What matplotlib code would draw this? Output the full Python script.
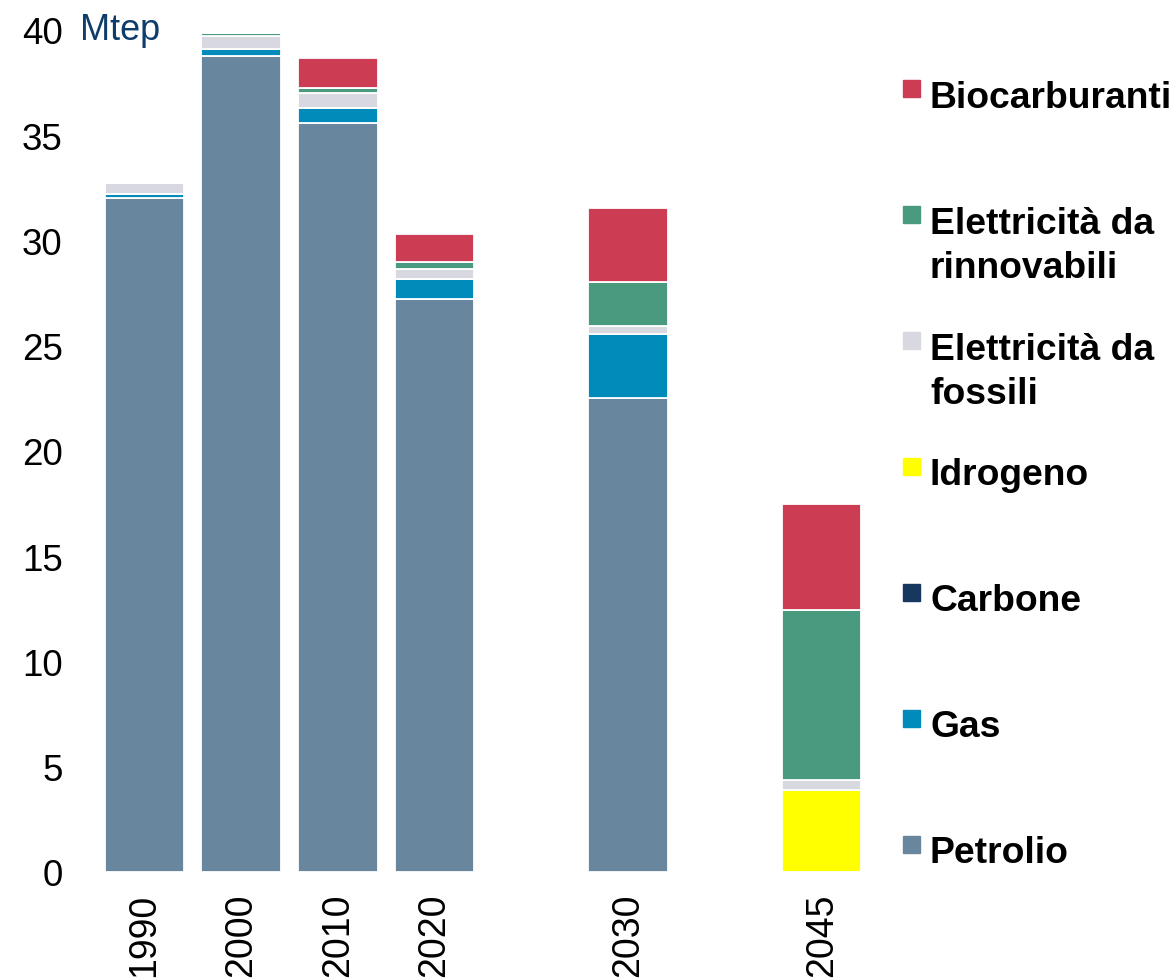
import numpy as np
import matplotlib
matplotlib.use("Agg")
import matplotlib.pyplot as plt
from matplotlib.patches import Rectangle

# DATI (Mtep)
anni = ["1990", "2000", "2010", "2020", "2030", "2045"]
posizioni = [0, 1, 2, 3, 5, 7]

petrolio = [32.0, 38.75, 35.6, 27.2, 22.5, 0.0]
gas = [0.2, 0.35, 0.7, 0.95, 3.05, 0.0]
carbone = [0.0, 0.0, 0.0, 0.0, 0.0, 0.0]
idrogeno = [0.0, 0.0, 0.0, 0.0, 0.0, 3.9]
el_fossili = [0.55, 0.6, 0.7, 0.5, 0.4, 0.45]
el_rinnovabili = [0.0, 0.15, 0.25, 0.35, 2.1, 8.1]
biocarburanti = [0.0, 0.0, 1.4, 1.3, 3.5, 5.05]

serie = [
    ("Petrolio", petrolio, "#68879e"),
    ("Gas", gas, "#008bba"),
    ("Carbone", carbone, "#17375e"),
    ("Idrogeno", idrogeno, "#ffff00"),
    ("Elettricità da\nfossili", el_fossili, "#d8d8e0"),
    ("Elettricità da\nrinnovabili", el_rinnovabili, "#4a9a80"),
    ("Biocarburanti", biocarburanti, "#cc3c52"),
]

plt.rcParams['font.family'] = ['Liberation Sans', 'DejaVu Sans']

W, H = 1176, 979
fig = plt.figure(figsize=(W / 100, H / 100), dpi=100)
ax = fig.add_axes([96 / W, 1 - 873 / H, (870 - 96) / W, (873 - 31) / H])

# barre impilate
base = np.zeros(len(anni))
for nome, valori, colore in serie:
    v = np.array(valori)
    ax.bar(posizioni, v, bottom=base, width=0.82, color=colore,
           edgecolor="white", linewidth=1.3)
    base += v

ax.set_xlim(-0.5, 7.5)
ax.set_ylim(0, 40)
ax.set_yticks(np.arange(0, 41, 5))
ax.set_xticks(posizioni)
ax.set_xticklabels(anni, rotation=90, va="top")
ax.tick_params(axis="y", length=0, pad=24, labelsize=26.5)
ax.tick_params(axis="x", length=0, pad=15, labelsize=27)
for s in ax.spines.values():
    s.set_visible(False)

fig.text(80 / W, 1 - 31 / H, "Mtep", color="#0e3d6b", fontsize=26,
         va="center", ha="left")

# legenda manuale (dall'alto), una riga di testo alla volta
for i, (nome, valori, colore) in enumerate(reversed(serie)):
    y_px = 94 + i * 126
    fig.patches.append(Rectangle((903 / W, 1 - (y_px + 4) / H), 17 / W, 17 / H,
                                 transform=fig.transFigure, color=colore))
    for k, riga in enumerate(nome.split("\n")):
        fig.text(930 / W, 1 - (y_px + k * 44) / H, riga, fontsize=26.8,
                 fontweight="bold", va="center_baseline", ha="left")

fig.savefig("out.png", dpi=100)
